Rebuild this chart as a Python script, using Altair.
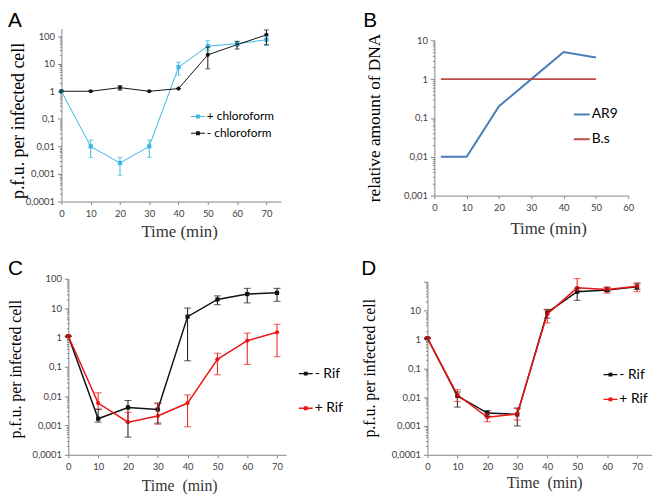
import altair as alt
import pandas as pd

# ---------------- data ----------------
time = [0, 10, 20, 30, 40, 50, 60, 70]
panel_letters = ["A", "B", "C", "D"]

# Panel A
a_names = ["+ chloroform", "- chloroform"]
a_plus = [1, 0.01, 0.0025, 0.01, 7.5, 43, 53, 74]
a_plus_lo = [1, 0.004, 0.0009, 0.004, 3.9, 30, 45, 46]
a_plus_hi = [1, 0.017, 0.004, 0.017, 11.3, 68, 62, 98]
a_minus = [1, 1, 1.35, 1, 1.25, 21, 49, 111]
a_minus_lo = [1, 1, 1.1, 1, 1.25, 6.5, 34, 49]
a_minus_hi = [1, 1, 1.6, 1, 1.25, 40, 65, 168]

# Panel B
b_names = ["AR9", "B.s"]
b_time = [2, 10, 20, 30, 40, 50]
b_ar9 = [0.01, 0.01, 0.2, 1, 5, 3.6]
b_bs = [1, 1, 1, 1, 1, 1]

# Panel C
c_names = ["- Rif", "+ Rif"]
c_minus = [1.1, 0.0017, 0.0041, 0.0035, 5.1, 19.6, 30, 33]
c_minus_lo = [1.1, 0.0013, 0.0004, 0.0012, 0.16, 13, 15, 17]
c_minus_hi = [1.1, 0.0036, 0.0071, 0.0058, 10, 26, 47, 47]
c_plus = [1.1, 0.0058, 0.0013, 0.0021, 0.0058, 0.18, 0.77, 1.5]
c_plus_lo = [1.1, 0.0035, 0.0013, 0.0011, 0.0009, 0.053, 0.12, 0.22]
c_plus_hi = [1.1, 0.013, 0.0028, 0.0055, 0.011, 0.29, 1.4, 2.8]

# Panel D
d_names = ["- Rif", "+ Rif"]
d_minus = [1.1, 0.011, 0.0028, 0.0025, 8.5, 45, 51, 66]
d_minus_lo = [1.1, 0.0045, 0.0022, 0.001, 5.5, 22.6, 45, 54]
d_minus_hi = [1.1, 0.015, 0.0034, 0.0042, 11, 60, 62, 84]
d_plus = [1.1, 0.012, 0.002, 0.0026, 7.5, 61, 54, 70]
d_plus_lo = [1.1, 0.007, 0.0014, 0.0016, 3.7, 50, 40, 45]
d_plus_hi = [1.1, 0.018, 0.0027, 0.004, 10.6, 128, 66, 91]


def long_df(ts, series):
    rows = []
    for name, vals, lo, hi in series:
        for t, v, l, h in zip(ts, vals, lo, hi):
            rows.append({"t": t, "v": v, "lo": l, "hi": h, "s": name})
    return pd.DataFrame(rows)


df_a = long_df(time, [(a_names[0], a_plus, a_plus_lo, a_plus_hi),
                      (a_names[1], a_minus, a_minus_lo, a_minus_hi)])
df_b = long_df(b_time, [(b_names[0], b_ar9, b_ar9, b_ar9),
                        (b_names[1], b_bs, b_bs, b_bs)])
df_c = long_df(time, [(c_names[0], c_minus, c_minus_lo, c_minus_hi),
                      (c_names[1], c_plus, c_plus_lo, c_plus_hi)])
df_d = long_df(time, [(d_names[0], d_minus, d_minus_lo, d_minus_hi),
                      (d_names[1], d_plus, d_plus_lo, d_plus_hi)])

# ---------------- styling helpers ----------------
SANS = "Lato"
SERIF = "Liberation Serif"
AXIS_GREY = "#868686"
LABEL_GREY = "#404040"
IS_DECADE = "abs(log(datum.value)/LN10 - round(log(datum.value)/LN10)) < 0.001"


def log_ticks(e0, e1):
    vals = []
    for e in range(e0, e1):
        for m in range(1, 10):
            vals.append(float(f"{m}e{e}"))
    vals.append(float(f"1e{e1}"))
    return vals


def y_axis(title, e0, e1, tx, ty, tsize, offset=0, hide_above=None):
    lab = f"{IS_DECADE} ? replace(format(datum.value, '~g'), '.', ',') : ''"
    if hide_above is not None:
        lab = f"datum.value > {hide_above} ? '' : ({lab})"
    return alt.Axis(
        values=log_ticks(e0, e1), labelExpr=lab, title=title,
        titleX=tx, titleY=ty, titleAngle=270, titleAlign="center",
        titleBaseline="alphabetic", titleFont=SERIF, titleFontSize=tsize,
        titleFontWeight=400, titleColor="black", offset=offset,
        tickSize={"condition": {"test": IS_DECADE, "value": 4}, "value": 2},
        tickColor=AXIS_GREY, domainColor=AXIS_GREY, labelColor=LABEL_GREY,
        labelFont=SANS, labelFontSize=9.5, labelPadding=3, grid=False,
    )


def x_axis(title, xmax, tx, ty, tsize):
    return alt.Axis(
        values=list(range(0, xmax + 1, 10)), format="d", title=title,
        titleX=tx, titleY=ty, titleAlign="center", titleBaseline="alphabetic",
        titleFont=SERIF, titleFontSize=tsize, titleFontWeight=400,
        titleColor="#333333", tickSize=3, tickColor=AXIS_GREY,
        domainColor=AXIS_GREY, labelColor=LABEL_GREY, labelFont=SANS,
        labelFontSize=9.5, labelPadding=4, grid=False, labelFlush=False,
    )


def letter_layer(letter, px, py):
    return alt.Chart(pd.DataFrame({"lab": [letter]})).mark_text(
        align="left", baseline="alphabetic", font="Liberation Sans",
        fontSize=21, color="black").encode(
        text="lab:N", x=alt.value(px), y=alt.value(py))


def marker_path(half_line):
    return (f"M-1,-{half_line}H1V{half_line}H-1Z "
            "M-0.28,-0.28H0.28V0.28H-0.28Z")


def error_panel(df, names, colors, shapes, xscale, yscale, xax, yax, legend,
                lw, cap, width, height, letter):
    base = alt.Chart(df)
    col = alt.Color("s:N", scale=alt.Scale(domain=names, range=colors), legend=legend)
    x = alt.X("t:Q", scale=xscale, axis=xax)
    pts = [
        base.transform_filter(alt.datum.s == nm).mark_point(
            filled=True, size=18, opacity=1, shape=sh).encode(
            x=x, y=alt.Y("v:Q", scale=yscale, axis=yax), color=col)
        for nm, sh in zip(names, shapes)
    ]
    line = base.mark_line(strokeWidth=lw).encode(
        x=x, y=alt.Y("v:Q", scale=yscale, axis=yax), color=col)
    rule = base.mark_rule(strokeWidth=1).encode(
        x=x, y=alt.Y("lo:Q", scale=yscale, axis=yax), y2="hi:Q", color=col)
    cap_lo = base.mark_tick(orient="horizontal", size=cap, thickness=1).encode(
        x=x, y=alt.Y("lo:Q", scale=yscale, axis=yax), color=col)
    cap_hi = base.mark_tick(orient="horizontal", size=cap, thickness=1).encode(
        x=x, y=alt.Y("hi:Q", scale=yscale, axis=yax), color=col)
    return alt.layer(*pts, line, rule, cap_lo, cap_hi, letter).properties(
        width=width, height=height)


def make_legend(x, y, row_pad, size, half_line, font_size):
    return alt.Legend(orient="none", legendX=x, legendY=y, title=None,
                      symbolType=marker_path(half_line), symbolSize=size,
                      symbolStrokeWidth=0, labelFont=SANS,
                      labelFontSize=font_size, labelColor="black",
                      rowPadding=row_pad, labelOffset=2, padding=0)


# ---------------- panel A ----------------
chart_a = error_panel(
    df_a, a_names, ["#3cb6e3", "#151515"], ["square", "circle"],
    alt.Scale(domain=[0, 75], nice=False, zero=False),
    alt.Scale(type="log", domain=[0.0001, 190], nice=False),
    x_axis("Time\u00a0(min)", 70, 119, 35, 17),
    y_axis("p.f.u. per infected cell", -4, 2, -38, 93, 18),
    make_legend(131, 82, 4, 196, 0.07, 12),
    1, 5, 222, 175, letter_layer(panel_letters[0], -54, -1))

# ---------------- panel B ----------------
col_b = alt.Color("s:N", scale=alt.Scale(domain=b_names, range=["#4a7ebb", "#be4b48"]),
                  legend=alt.Legend(orient="none", legendX=147, legendY=78, title=None,
                                    symbolType="stroke", symbolSize=256,
                                    symbolStrokeWidth=2, labelFont=SANS,
                                    labelFontSize=14, labelColor="black",
                                    rowPadding=9, labelOffset=1, padding=0))
line_b = alt.Chart(df_b).mark_line(strokeWidth=2).encode(
    x=alt.X("t:Q", scale=alt.Scale(domain=[0, 60], range=[7, 203], nice=False, zero=False),
            axis=x_axis("Time\u00a0(min)", 60, 122, 38, 17)),
    y=alt.Y("v:Q", scale=alt.Scale(type="log", domain=[0.001, 10], range=[169, 12], nice=False),
            axis=y_axis("relative amount of DNA", -3, 1, -55, 90, 17.5, offset=-7)),
    color=col_b,
)
chart_b = alt.layer(line_b, letter_layer(panel_letters[1], -65, -1)).properties(
    width=203, height=169)

# ---------------- panel C ----------------
chart_c = error_panel(
    df_c, c_names, ["#111111", "#ee1414"], ["square", "circle"],
    alt.Scale(domain=[0, 73], range=[7, 227], nice=False, zero=False),
    alt.Scale(type="log", domain=[0.0001, 100], nice=False),
    x_axis("Time\u00a0\u00a0(min)", 70, 119, 36, 16),
    y_axis("p.f.u. per infected cell", -4, 2, -48, 91, 16, offset=-7),
    make_legend(240, 89, 21, 196, 0.1, 14),
    1.5, 7, 227, 178, letter_layer(panel_letters[2], -54, -4))

# ---------------- panel D ----------------
chart_d = error_panel(
    df_d, d_names, ["#111111", "#ee1414"], ["square", "circle"],
    alt.Scale(domain=[0, 75], nice=False, zero=False),
    alt.Scale(type="log", domain=[0.0001, 100], range=[178, 3], nice=False),
    x_axis("Time\u00a0\u00a0(min)", 70, 118, 33, 16),
    y_axis("p.f.u. per infected cell", -4, 2, -54, 90, 16, hide_above=50),
    make_legend(178, 90, 11, 196, 0.1, 14),
    1.5, 7, 227, 178, letter_layer(panel_letters[3], -67, -4))

chart = alt.concat(
    chart_a, chart_b, chart_c, chart_d,
    columns=2, spacing={"row": 75, "column": 143}, bounds="flush", align="all",
).resolve_scale(color="independent", x="independent",
                y="independent").resolve_legend(color="independent").properties(
    padding=0, background="white").configure_view(stroke=None)

chart.save("out.html", embed_options={"renderer": "svg", "actions": False})
